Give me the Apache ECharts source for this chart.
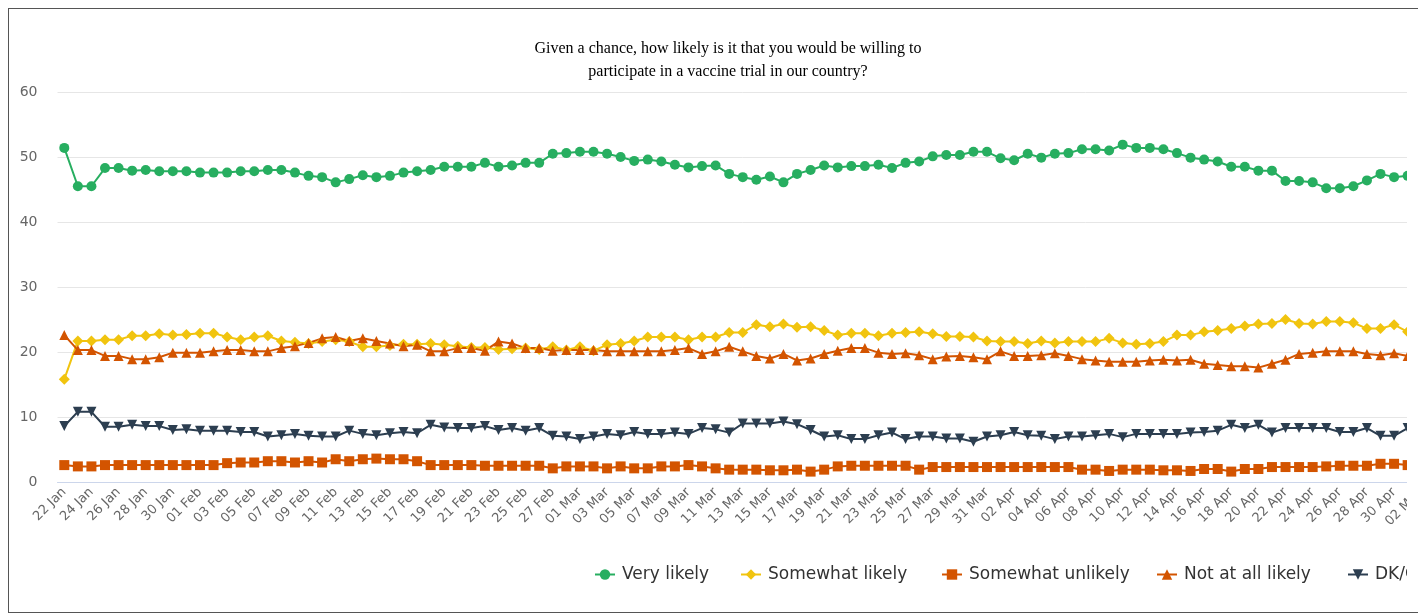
<!DOCTYPE html>
<html>
<head>
<meta charset="utf-8">
<title>Vaccine trial willingness</title>
<script src="https://cdn.jsdelivr.net/npm/echarts/dist/echarts.min.js"></script>
<style>
  html, body { margin: 0; padding: 0; background: #fff; overflow: hidden; }
  #frame { position: absolute; left: 8px; top: 8px; width: 1500px; height: 603px; border: 1px solid #555; }
  #clip { position: absolute; left: 0; top: 0; width: 1398px; height: 603px; overflow: hidden; }
  #vaccine-trial-chart { width: 1438px; height: 603px; }
</style>
</head>
<body>
<div id="frame">
  <div id="clip">
    <div id="vaccine-trial-chart"></div>
  </div>
</div>
<script>
// daily tracker, 22 Jan - 02 May
const dates = [
  '22 Jan', '23 Jan', '24 Jan', '25 Jan', '26 Jan', '27 Jan', '28 Jan', '29 Jan', '30 Jan', '31 Jan',
  '01 Feb', '02 Feb', '03 Feb', '04 Feb', '05 Feb', '06 Feb', '07 Feb', '08 Feb', '09 Feb', '10 Feb',
  '11 Feb', '12 Feb', '13 Feb', '14 Feb', '15 Feb', '16 Feb', '17 Feb', '18 Feb', '19 Feb', '20 Feb',
  '21 Feb', '22 Feb', '23 Feb', '24 Feb', '25 Feb', '26 Feb', '27 Feb', '28 Feb',
  '01 Mar', '02 Mar', '03 Mar', '04 Mar', '05 Mar', '06 Mar', '07 Mar', '08 Mar', '09 Mar', '10 Mar',
  '11 Mar', '12 Mar', '13 Mar', '14 Mar', '15 Mar', '16 Mar', '17 Mar', '18 Mar', '19 Mar', '20 Mar',
  '21 Mar', '22 Mar', '23 Mar', '24 Mar', '25 Mar', '26 Mar', '27 Mar', '28 Mar', '29 Mar', '30 Mar', '31 Mar',
  '01 Apr', '02 Apr', '03 Apr', '04 Apr', '05 Apr', '06 Apr', '07 Apr', '08 Apr', '09 Apr', '10 Apr',
  '11 Apr', '12 Apr', '13 Apr', '14 Apr', '15 Apr', '16 Apr', '17 Apr', '18 Apr', '19 Apr', '20 Apr',
  '21 Apr', '22 Apr', '23 Apr', '24 Apr', '25 Apr', '26 Apr', '27 Apr', '28 Apr', '29 Apr', '30 Apr',
  '01 May', '02 May'
]

const veryLikely = [
  51.4, 45.5, 45.5, 48.3, 48.3, 47.9, 48.0, 47.8, 47.8, 47.8,
  47.6, 47.6, 47.6, 47.8, 47.8, 48.0, 48.0, 47.6, 47.1, 46.9,
  46.1, 46.6, 47.2, 46.9, 47.1, 47.6, 47.8, 48.0, 48.5, 48.5,
  48.5, 49.1, 48.5, 48.7, 49.1, 49.1, 50.5, 50.6, 50.8, 50.8,
  50.5, 50.0, 49.4, 49.6, 49.3, 48.8, 48.4, 48.6, 48.7, 47.4,
  46.9, 46.5, 47.0, 46.1, 47.4, 48.0, 48.7, 48.4, 48.6, 48.6,
  48.8, 48.3, 49.1, 49.3, 50.1, 50.3, 50.3, 50.8, 50.8, 49.8,
  49.5, 50.5, 49.9, 50.5, 50.6, 51.2, 51.2, 51.0, 51.9, 51.4,
  51.4, 51.2, 50.6, 49.9, 49.6, 49.3, 48.5, 48.5, 47.9, 47.9,
  46.3, 46.3, 46.1, 45.2, 45.2, 45.5, 46.4, 47.4, 46.9, 47.1,
  47.0
]
const somewhatLikely = [
  15.8, 21.7, 21.7, 21.9, 21.9, 22.5, 22.5, 22.8, 22.6, 22.7,
  22.9, 22.9, 22.3, 21.9, 22.3, 22.5, 21.7, 21.5, 21.3, 21.6,
  21.9, 21.6, 20.8, 20.8, 21.0, 21.2, 21.2, 21.3, 21.1, 20.9,
  20.7, 20.7, 20.4, 20.5, 20.6, 20.4, 20.8, 20.3, 20.8, 20.2,
  21.1, 21.3, 21.7, 22.3, 22.3, 22.3, 21.9, 22.3, 22.3, 23.0,
  23.0, 24.2, 23.9, 24.3, 23.8, 23.9, 23.3, 22.6, 22.9, 22.9,
  22.5, 22.9, 23.0, 23.1, 22.8, 22.4, 22.4, 22.3, 21.7, 21.6,
  21.6, 21.3, 21.7, 21.4, 21.6, 21.6, 21.6, 22.1, 21.4, 21.2,
  21.3, 21.6, 22.6, 22.6, 23.1, 23.3, 23.6, 24.0, 24.3, 24.4,
  25.0, 24.4, 24.3, 24.7, 24.7, 24.5, 23.6, 23.6, 24.2, 23.1,
  23.0
]
const somewhatUnlikely = [
  2.6, 2.4, 2.4, 2.6, 2.6, 2.6, 2.6, 2.6, 2.6, 2.6,
  2.6, 2.6, 2.9, 3.0, 3.0, 3.2, 3.2, 3.0, 3.2, 3.0,
  3.5, 3.2, 3.5, 3.6, 3.5, 3.5, 3.2, 2.6, 2.6, 2.6,
  2.6, 2.5, 2.5, 2.5, 2.5, 2.5, 2.1, 2.4, 2.4, 2.4,
  2.1, 2.4, 2.1, 2.1, 2.4, 2.4, 2.6, 2.4, 2.1, 1.9,
  1.9, 1.9, 1.8, 1.8, 1.9, 1.6, 1.9, 2.4, 2.5, 2.5,
  2.5, 2.5, 2.5, 1.9, 2.3, 2.3, 2.3, 2.3, 2.3, 2.3,
  2.3, 2.3, 2.3, 2.3, 2.3, 1.9, 1.9, 1.7, 1.9, 1.9,
  1.9, 1.8, 1.8, 1.7, 2.0, 2.0, 1.6, 2.0, 2.0, 2.3,
  2.3, 2.3, 2.3, 2.4, 2.5, 2.5, 2.5, 2.8, 2.8, 2.6,
  2.6
]
const notAtAllLikely = [
  22.6, 20.3, 20.3, 19.4, 19.4, 18.9, 18.9, 19.2, 19.9, 19.9,
  19.9, 20.1, 20.3, 20.3, 20.1, 20.1, 20.6, 20.9, 21.4, 22.1,
  22.3, 21.7, 22.1, 21.7, 21.3, 20.9, 21.1, 20.1, 20.1, 20.6,
  20.6, 20.2, 21.6, 21.3, 20.6, 20.6, 20.2, 20.3, 20.3, 20.3,
  20.1, 20.1, 20.1, 20.1, 20.1, 20.3, 20.6, 19.7, 20.1, 20.8,
  20.1, 19.4, 19.0, 19.7, 18.7, 19.0, 19.7, 20.2, 20.6, 20.6,
  19.9, 19.7, 19.8, 19.5, 18.9, 19.3, 19.4, 19.2, 18.9, 20.1,
  19.4, 19.4, 19.5, 19.8, 19.4, 18.9, 18.7, 18.5, 18.5, 18.5,
  18.7, 18.8, 18.7, 18.8, 18.2, 18.0, 17.8, 17.8, 17.6, 18.2,
  18.8, 19.7, 19.9, 20.1, 20.1, 20.1, 19.7, 19.5, 19.8, 19.4,
  19.4
]
const dontKnow = [
  8.6, 10.8, 10.8, 8.5, 8.5, 8.8, 8.6, 8.6, 8.0, 8.1,
  7.9, 7.9, 7.9, 7.7, 7.7, 7.0, 7.2, 7.4, 7.1, 7.0,
  7.0, 7.9, 7.4, 7.2, 7.5, 7.7, 7.5, 8.8, 8.4, 8.3,
  8.3, 8.6, 8.0, 8.3, 7.9, 8.3, 7.1, 7.0, 6.6, 7.0,
  7.4, 7.2, 7.7, 7.4, 7.4, 7.6, 7.4, 8.3, 8.1, 7.6,
  9.0, 9.0, 9.0, 9.3, 8.9, 8.0, 7.0, 7.2, 6.6, 6.6,
  7.2, 7.6, 6.6, 7.0, 7.0, 6.7, 6.7, 6.2, 7.0, 7.2,
  7.7, 7.2, 7.1, 6.6, 7.0, 7.0, 7.2, 7.4, 6.9, 7.4,
  7.4, 7.4, 7.4, 7.6, 7.7, 7.9, 8.8, 8.3, 8.8, 7.6,
  8.3, 8.3, 8.3, 8.3, 7.7, 7.7, 8.3, 7.1, 7.1, 8.3,
  8.2
]

const yTicks = [0, 10, 20, 30, 40, 50, 60]

const seriesNames = ['Very likely', 'Somewhat likely', 'Somewhat unlikely', 'Not at all likely', "DK/Can't say"]
const seriesColors = ['#27ae60', '#f1c40f', '#d35400', '#d35400', '#2c3e50']
const seriesSymbols = ['circle', 'diamond', 'rect', 'triangle', 'triangle']
const seriesRotate = [0, 0, 0, 0, 180]
const seriesData = [veryLikely, somewhatLikely, somewhatUnlikely, notAtAllLikely, dontKnow]
// left edge of each legend item, px inside the chart box
const legendLeft = [585, 731, 932, 1147, 1338]

const chart = echarts.init(document.getElementById('vaccine-trial-chart'))

let legends = seriesNames.map((name, i) => {
  return {
    data: [name],
    left: legendLeft[i],
    top: 557,
    padding: 0,
    itemWidth: 20,
    itemHeight: 13,
    textStyle: {
      color: '#333',
      fontSize: 17,
      fontFamily: 'DejaVu Sans',
      padding: [0, 0, 0, 2]
    }
  }
})

let series = seriesNames.map((name, i) => {
  return {
    name: name,
    type: 'line',
    data: seriesData[i],
    symbol: seriesSymbols[i],
    symbolSize: seriesSymbols[i] === 'diamond' ? 11 : 10,
    symbolRotate: seriesRotate[i],
    showAllSymbol: true,
    lineStyle: { color: seriesColors[i], width: 2 },
    itemStyle: { color: seriesColors[i] },
    emphasis: { disabled: true },
    animation: false
  }
})

let option = {
  animation: false,
  title: {
    text: 'Given a chance, how likely is it that you would be willing to\nparticipate in a vaccine trial in our country?',
    left: 'center',
    top: 23,
    textStyle: {
      fontFamily: 'Liberation Serif',
      fontSize: 16,
      fontWeight: 'normal',
      color: '#000',
      lineHeight: 23
    }
  },
  legend: legends,
  grid: {
    left: 48.5,
    right: 19,
    top: 83,
    bottom: 130,
    outerBoundsMode: 'none'
  },
  xAxis: {
    type: 'category',
    data: dates,
    boundaryGap: true,
    axisLine: { lineStyle: { color: '#ccd6eb', width: 1 } },
    axisTick: { show: false },
    splitLine: { show: false },
    axisLabel: {
      interval: 1,
      rotate: 45,
      margin: 8,
      color: '#666',
      fontSize: 13,
      fontFamily: 'DejaVu Sans'
    }
  },
  yAxis: {
    type: 'value',
    min: yTicks[0],
    max: yTicks[yTicks.length - 1],
    interval: 10,
    axisLine: { show: false },
    axisTick: { show: false },
    splitLine: { lineStyle: { color: '#e6e6e6', width: 1 } },
    axisLabel: {
      margin: 20,
      color: '#666',
      fontSize: 14,
      fontFamily: 'DejaVu Sans'
    }
  },
  series: series
}

chart.setOption(option)

window.addEventListener('resize', function () {
  chart.resize()
})
</script>
</body>
</html>
